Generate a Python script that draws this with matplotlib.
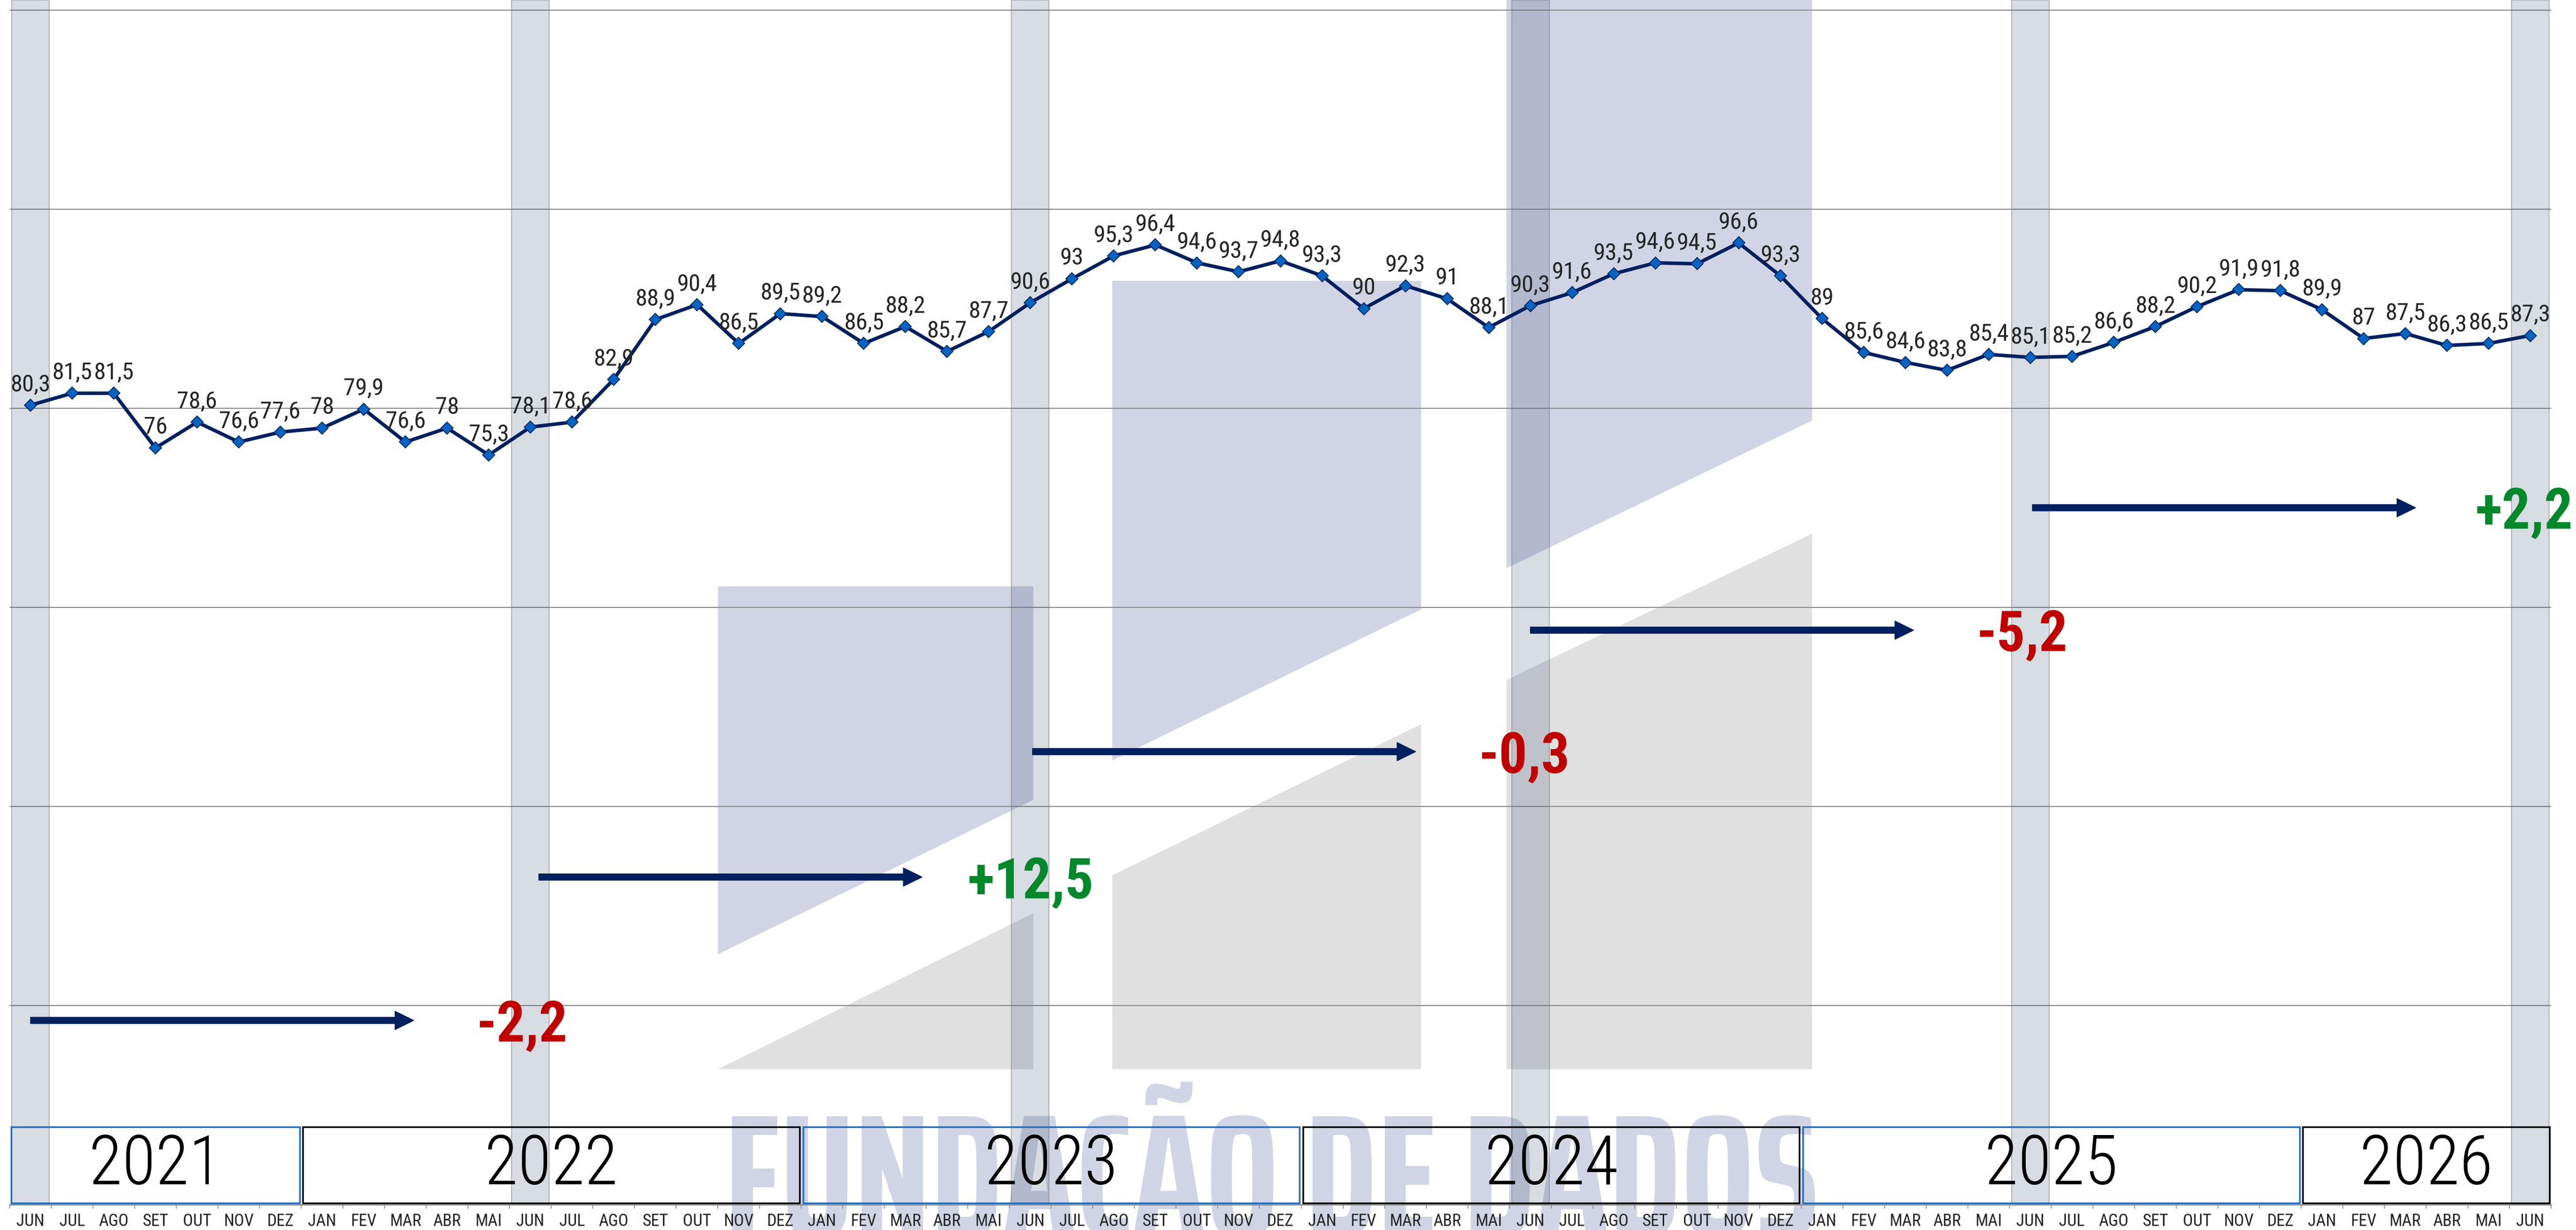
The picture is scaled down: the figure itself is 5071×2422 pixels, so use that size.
import matplotlib
matplotlib.use('Agg')
import matplotlib.pyplot as plt
from matplotlib.patches import Polygon, Rectangle, FancyArrow
from matplotlib.textpath import TextPath
from matplotlib.font_manager import FontProperties
import numpy as np

# --- dados ---
m12 = ['JAN', 'FEV', 'MAR', 'ABR', 'MAI', 'JUN', 'JUL', 'AGO', 'SET', 'OUT', 'NOV', 'DEZ']
months = m12[5:] + m12 * 4 + m12[:6]

values = [80.3, 81.5, 81.5, 76, 78.6, 76.6, 77.6,
          78, 79.9, 76.6, 78, 75.3, 78.1, 78.6, 82.9, 88.9, 90.4, 86.5, 89.5,
          89.2, 86.5, 88.2, 85.7, 87.7, 90.6, 93, 95.3, 96.4, 94.6, 93.7, 94.8,
          93.3, 90, 92.3, 91, 88.1, 90.3, 91.6, 93.5, 94.6, 94.5, 96.6, 93.3,
          89, 85.6, 84.6, 83.8, 85.4, 85.1, 85.2, 86.6, 88.2, 90.2, 91.9, 91.8,
          89.9, 87, 87.5, 86.3, 86.5, 87.3]

years = ['2021', '2022', '2023', '2024', '2025', '2026']
year_first = [0, 7, 19, 31, 43, 55]
year_last = [6, 18, 30, 42, 54, 60]
jun_idx = [0, 12, 24, 36, 48, 60]
arrow_x0 = [0, 12.2, 24.05, 36.0, 48.05]
arrow_y = [18.5, 32.9, 45.5, 57.7, 70.0]
watermark = 'FUNDAÇÃO DE DADOS'

NARROW = ['Roboto Condensed', 'DejaVu Sans']
NAVY = '#002060'
W, H = 5071, 2422
S = W / 1568  # escala da imagem reduzida


def fmt(v, sign=False):
    s = f"{v:+.1f}" if sign else f"{v:g}"
    return s.replace('.', ',')


fig = plt.figure(figsize=(W / 100, H / 100), dpi=100)
ax = fig.add_axes([19 / W, 50 / H, 5003 / W, 2372 / H])
ax.set_facecolor('none')
x = np.arange(len(values))


def fig_xy(pts):
    # pontos em px da imagem reduzida -> fração da figura
    return [(px * S / W, 1 - py * S / H) for px, py in pts]


# marca d'agua (logo)
lav = '#d1d4e4'
gry = '#e0e0e0'
logo_lav = [
    [(437, 357), (629, 357), (629, 487), (437, 581)],
    [(677, 171), (865, 171), (865, 371), (677, 463)],
    [(917, -5), (1103, -5), (1103, 256), (917, 346)],
]
logo_gry = [
    [(437, 651), (629, 556), (629, 651)],
    [(677, 533), (865, 441), (865, 651), (677, 651)],
    [(917, 414), (1103, 325), (1103, 651), (917, 651)],
]
for pts in logo_lav:
    ax.add_patch(Polygon(fig_xy(pts), closed=True, facecolor=lav, edgecolor='none',
                         transform=fig.transFigure, clip_on=False, zorder=0.1))
for pts in logo_gry:
    ax.add_patch(Polygon(fig_xy(pts), closed=True, facecolor=gry, edgecolor='none',
                         transform=fig.transFigure, clip_on=False, zorder=0.1))

# texto da marca d'agua: escolhe a fonte mais estreita disponível
wm_w, wm_cap = (1100 - 441) * S, 236
best = None
for fam in ['Saira ExtraCondensed', 'Fira Sans Extra Condensed', 'Oswald', 'Barlow Condensed']:
    fp = FontProperties(family=fam, weight='bold')
    w = TextPath((0, 0), watermark, size=100, prop=fp).get_extents().width
    c = TextPath((0, 0), 'F', size=100, prop=fp).get_extents().height
    err = abs(w / c - wm_w / wm_cap)
    if best is None or err < best[0]:
        best = (err, fam, w)
wm_size = 100 * wm_w / best[2] * 72 / 100
ax.text(441 * S / W, -11 / H, watermark, transform=fig.transFigure, ha='left',
        va='baseline', fontsize=wm_size, family=best[1], fontweight='bold',
        color=lav, zorder=0.1, clip_on=False)

# faixas de junho
ax.bar(jun_idx, 121, width=0.9, bottom=0, color=(0.165, 0.247, 0.4, 0.18),
       edgecolor=(0.45, 0.45, 0.45, 0.45), linewidth=1.5, zorder=1)

# serie
ax.plot(x, values, color=NAVY, lw=5, marker='D', markersize=12,
        markerfacecolor='#0563c1', markeredgecolor=NAVY, markeredgewidth=1.2, zorder=4)
for i, v in enumerate(values):
    ax.annotate(fmt(v), (i, v), xytext=(0, 20), textcoords='offset points',
                ha='center', va='baseline', fontsize=34, color='#262626',
                family=NARROW, zorder=5)

# setas de variacao anual (JUN a JUN)
for k in range(5):
    a, b = jun_idx[k], jun_idx[k + 1]
    d = round(values[b] - values[a], 1)
    ax.add_patch(FancyArrow(arrow_x0[k], arrow_y[k], 9.2, 0, width=0.64, head_width=1.85,
                            head_length=0.45, length_includes_head=True,
                            color=NAVY, zorder=3))
    ax.text(arrow_x0[k] + 11.8, arrow_y[k], fmt(d, sign=True), ha='center',
            va='center_baseline', fontsize=80, fontweight='bold', family=NARROW,
            color='#c00000' if d < 0 else '#00882b', zorder=5, clip_on=False)

# caixas dos anos
for k, yr in enumerate(years):
    ec = '#1f6fc5' if k % 2 == 0 else 'black'
    x_a = year_first[k] - 0.46
    x_b = year_last[k] + 0.46
    ax.add_patch(Rectangle((x_a, 0.15), x_b - x_a, 7.65, fill=False, edgecolor=ec,
                           linewidth=2.4, zorder=5, clip_on=False))
    ax.text((x_a + x_b) / 2, 3.95, yr, ha='center', va='center', fontsize=97,
            family=NARROW, fontweight='light', color='black', zorder=6)

# eixos
ax.set_xlim(-0.5, 60.5)
ax.set_ylim(0, 121)
ax.set_yticks([20, 40, 60, 80, 100, 120])
ax.yaxis.grid(True, color='#8c8c8c', lw=1.5)
ax.set_axisbelow(True)
ax.tick_params(axis='y', left=False, labelleft=False)
ax.set_xticks(x)
ax.set_xticklabels(months, family=NARROW, fontsize=24, color='#262626')
ax.set_xticks(np.arange(-0.5, 61, 1), minor=True)
ax.tick_params(axis='x', which='major', length=0, pad=12)
ax.tick_params(axis='x', which='minor', length=6, width=1.2, color='#8c8c8c')
for sp in ['left', 'right', 'top']:
    ax.spines[sp].set_visible(False)
ax.spines['bottom'].set_color('#8c8c8c')
ax.spines['bottom'].set_linewidth(1.8)

fig.savefig('out.png', dpi=100)
